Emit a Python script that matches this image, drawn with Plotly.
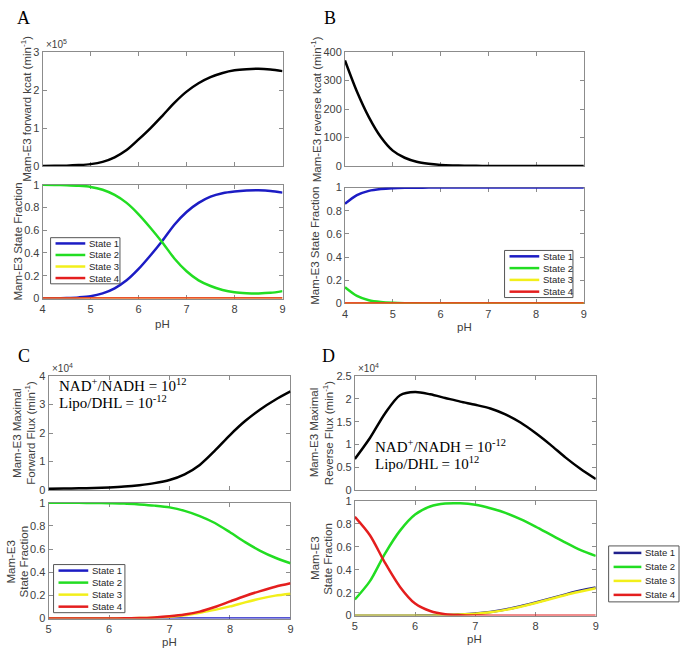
import plotly.graph_objects as go

W, H = 683, 655

# ---------------- data ----------------
ph_AB = [4.0, 4.25, 4.5, 4.75, 5.0, 5.25, 5.5, 5.75, 6.0, 6.25, 6.5, 6.75,
         7.0, 7.25, 7.5, 7.75, 8.0, 8.25, 8.5, 8.75, 9.0]
ph_CD = [5.0, 5.25, 5.5, 5.75, 6.0, 6.25, 6.5, 6.75, 7.0, 7.25, 7.5, 7.75,
         8.0, 8.25, 8.5, 8.75, 9.0]

# Panel A (forward kcat, x1e5 min^-1)
A_kcat = [0.00, 0.005, 0.01, 0.025, 0.05, 0.11, 0.23, 0.42, 0.70, 1.00, 1.33, 1.67,
          1.96, 2.18, 2.34, 2.45, 2.52, 2.55, 2.56, 2.54, 2.50]
A_s1 = [0.0, 0.002, 0.005, 0.01, 0.02, 0.045, 0.09, 0.16, 0.26, 0.38, 0.51, 0.65,
        0.76, 0.84, 0.895, 0.925, 0.94, 0.948, 0.95, 0.945, 0.93]
A_s2 = [1.0, 0.998, 0.995, 0.99, 0.98, 0.955, 0.91, 0.84, 0.74, 0.62, 0.49, 0.35,
        0.24, 0.16, 0.11, 0.075, 0.055, 0.047, 0.045, 0.05, 0.065]
A_s3 = [0.0] * 21
A_s4 = [0.0] * 21

# Panel B (reverse kcat, min^-1)
B_kcat = [371, 262, 172, 102, 54, 29, 15, 8, 4, 2, 1, 0.5,
          0.2, 0.1, 0, 0, 0, 0, 0, 0, 0]
B_s1 = [0.86, 0.935, 0.972, 0.988, 0.995, 0.998, 0.999, 1.0, 1.0, 1.0, 1.0, 1.0,
        1.0, 1.0, 1.0, 1.0, 1.0, 1.0, 1.0, 1.0, 1.0]
B_s2 = [0.14, 0.065, 0.028, 0.012, 0.005, 0.002, 0.001, 0.0, 0.0, 0.0, 0.0, 0.0,
        0.0, 0.0, 0.0, 0.0, 0.0, 0.0, 0.0, 0.0, 0.0]
B_s3 = [0.0] * 21
B_s4 = [0.0] * 21

# Panel C (maximal forward flux, x1e4 min^-1)
C_flux = [0.04, 0.05, 0.06, 0.07, 0.09, 0.12, 0.17, 0.24, 0.35, 0.55, 0.88, 1.38,
          1.93, 2.42, 2.83, 3.17, 3.46]
C_s1 = [0.0] * 17
C_s2 = [1.0, 1.0, 0.999, 0.998, 0.996, 0.993, 0.985, 0.975, 0.96, 0.93, 0.885, 0.825,
        0.745, 0.66, 0.585, 0.525, 0.478]
C_s3 = [0.0, 0.0, 0.0, 0.0, 0.001, 0.002, 0.004, 0.008, 0.015, 0.028, 0.05, 0.075,
        0.105, 0.14, 0.172, 0.198, 0.215]
C_s4 = [0.0, 0.0, 0.0, 0.0, 0.001, 0.002, 0.004, 0.01, 0.02, 0.035, 0.06, 0.1,
        0.148, 0.195, 0.237, 0.275, 0.305]

# Panel D (maximal reverse flux, x1e4 min^-1)
D_flux = [0.68, 1.14, 1.68, 2.08, 2.15, 2.10, 2.02, 1.94, 1.87, 1.79, 1.66, 1.48,
          1.25, 0.99, 0.71, 0.46, 0.24]
D_s1 = [0.0, 0.0, 0.0, 0.0, 0.0, 0.001, 0.005, 0.01, 0.018, 0.032, 0.053, 0.082,
        0.115, 0.15, 0.185, 0.218, 0.245]
D_s2 = [0.14, 0.30, 0.54, 0.74, 0.88, 0.95, 0.976, 0.978, 0.965, 0.935, 0.895, 0.84,
        0.775, 0.705, 0.635, 0.57, 0.52]
D_s3 = [0.0, 0.0, 0.0, 0.0, 0.0, 0.0, 0.005, 0.01, 0.017, 0.03, 0.05, 0.078,
        0.11, 0.145, 0.18, 0.21, 0.238]
D_s4 = [0.86, 0.70, 0.46, 0.25, 0.105, 0.04, 0.012, 0.004, 0.001, 0.0, 0.0, 0.0,
        0.0, 0.0, 0.0, 0.0, 0.0]

state_names = ["State 1", "State 2", "State 3", "State 4"]
state_colors = ["#1c1cc4", "#22dd22", "#f2ef1a", "#e41e1e"]
state_colors_D = ["#20208c", "#22dd22", "#f2ef1a", "#e41e1e"]

# ---------------- layout helpers ----------------
def px(x):
    return x / W

def py(y):
    return 1 - y / H

AXC = "#8c8c8c"
TICKFONT = dict(family="Liberation Sans, Arial, sans-serif", size=11, color="#404040")
LABFONT = dict(family="Liberation Sans, Arial, sans-serif", size=11.5, color="#404040")
SERIF = "Liberation Serif, Times New Roman, serif"

fig = go.Figure()

# axis boxes in pixels: (left, top, right, bottom)
boxes = {
    1: (40, 47, 282, 163),
    2: (40, 182, 282, 298),
    3: (345, 47, 586, 163),
    4: (345, 185, 586, 303),
    5: (46, 377, 290, 493),
    6: (46, 506, 290, 624),
    7: (355, 377, 598, 493),
    8: (355, 504, 598, 621),
}
xranges = {1: [4, 9], 2: [4, 9], 3: [4, 9], 4: [4, 9],
           5: [5, 9], 6: [5, 9], 7: [5, 9], 8: [5, 9]}
yranges = {1: [0, 3], 2: [0, 1], 3: [0, 400], 4: [0, 1],
           5: [0, 4], 6: [0, 1], 7: [0, 2.5], 8: [0, 1]}
ydticks = {1: 1, 2: 0.2, 3: 100, 4: 0.2, 5: 1, 6: 0.2, 7: 0.5, 8: 0.2}

layout_axes = {}
for i, (l, t, r, b) in boxes.items():
    xn = "xaxis" if i == 1 else f"xaxis{i}"
    yn = "yaxis" if i == 1 else f"yaxis{i}"
    top_plot = i in (1, 3, 5, 7)
    layout_axes[xn] = dict(
        domain=[px(l), px(r)], range=xranges[i], anchor=f"y{'' if i == 1 else i}",
        showline=True, linecolor=AXC, linewidth=1, mirror="ticks",
        ticks="inside", ticklen=4, tickcolor=AXC, dtick=1, tick0=0,
        showgrid=False, zeroline=False, showticklabels=not top_plot,
        tickfont=TICKFONT, layer="below traces",
    )
    layout_axes[yn] = dict(
        domain=[py(b), py(t)], range=yranges[i], anchor=f"x{'' if i == 1 else i}",
        showline=True, linecolor=AXC, linewidth=1, mirror="ticks",
        ticks="inside", ticklen=4, tickcolor=AXC, dtick=ydticks[i], tick0=0,
        showgrid=False, zeroline=False, tickfont=TICKFONT, layer="below traces",
    )
fig.update_layout(**layout_axes)


def ax(i):
    return ("x" if i == 1 else f"x{i}"), ("y" if i == 1 else f"y{i}")


def add_curve(i, x, y, color, width=2.5):
    xa, ya = ax(i)
    fig.add_trace(go.Scatter(x=x, y=y, mode="lines", xaxis=xa, yaxis=ya,
                             line=dict(color=color, width=width, shape="spline", smoothing=0.8),
                             showlegend=False, hoverinfo="skip"))


# top panels
add_curve(1, ph_AB, A_kcat, "black")
add_curve(3, ph_AB, B_kcat, "black")
add_curve(5, ph_CD, C_flux, "black")
add_curve(7, ph_CD, D_flux, "black")

# state fractions
for s, c in zip([A_s1, A_s2, A_s3, A_s4], state_colors):
    add_curve(2, ph_AB, s, c)
for s, c in zip([B_s1, B_s2, B_s3, B_s4], state_colors):
    add_curve(4, ph_AB, s, c)
for s, c in zip([C_s1, C_s2, C_s3, C_s4], state_colors):
    add_curve(6, ph_CD, s, c)
for s, c in zip([D_s1, D_s2, D_s3, D_s4], state_colors_D):
    add_curve(8, ph_CD, s, c)


def text(x, y, s, font, xanchor="center", yanchor="middle", angle=0):
    fig.add_annotation(x=px(x), y=py(y), xref="paper", yref="paper", text=s,
                       showarrow=False, font=font, xanchor=xanchor, yanchor=yanchor,
                       textangle=angle)


# y-axis titles
text(23, 105, "Mam-E3 forward kcat (min<sup>-1</sup>)", LABFONT, angle=-90)
text(15, 240, "Mam-E3 State Fraction", LABFONT, angle=-90)
text(316, 105, "Mam-E3 reverse kcat (min<sup>-1</sup>)", LABFONT, angle=-90)
text(314, 244, "Mam-E3 State Fraction", LABFONT, angle=-90)
text(14, 435, "Mam-E3 Maximal", LABFONT, angle=-90)
text(27, 435, "Forward Flux (min<sup>-1</sup>)", LABFONT, angle=-90)
text(8, 566, "Mam-E3", LABFONT, angle=-90)
text(21, 566, "State Fraction", LABFONT, angle=-90)
text(314, 435, "Mam-E3 Maximal", LABFONT, angle=-90)
text(328, 435, "Reverse Flux (min<sup>-1</sup>)", LABFONT, angle=-90)
text(314, 563, "Mam-E3", LABFONT, angle=-90)
text(328, 563, "State Fraction", LABFONT, angle=-90)

# x-axis titles
text(161, 324, "pH", LABFONT)
text(466, 327, "pH", LABFONT)
text(168, 648, "pH", LABFONT)
text(476, 645, "pH", LABFONT)

# exponent labels
EXPFONT = dict(family="Liberation Sans, Arial, sans-serif", size=10, color="#404040")
text(41, 47, "×10<sup>5</sup>", EXPFONT, xanchor="left", yanchor="bottom")
text(47, 377, "×10<sup>4</sup>", EXPFONT, xanchor="left", yanchor="bottom")
text(356, 377, "×10<sup>4</sup>", EXPFONT, xanchor="left", yanchor="bottom")

# panel letters
LETFONT = dict(family=SERIF, size=18, color="black")
text(21, 12, "A", LETFONT)
text(330, 12, "B", LETFONT)
text(21, 357, "C", LETFONT)
text(328, 357, "D", LETFONT)

# in-plot annotations
NOTEFONT = dict(family=SERIF, size=15, color="black")
text(54, 386, "NAD<sup>+</sup>/NADH = 10<sup>12</sup>", NOTEFONT, xanchor="left")
text(54, 403, "Lipo/DHL = 10<sup>-12</sup>", NOTEFONT, xanchor="left")
text(373, 448, "NAD<sup>+</sup>/NADH = 10<sup>-12</sup>", NOTEFONT, xanchor="left")
text(373, 466, "Lipo/DHL = 10<sup>12</sup>", NOTEFONT, xanchor="left")

# legends (drawn boxes)
LEGFONT = dict(family="Liberation Sans, Arial, sans-serif", size=9.5, color="#262626")


def add_legend(box, names, colors, line_len=30):
    x0, y0, x1, y1 = box
    fig.add_shape(type="rect", xref="paper", yref="paper",
                  x0=px(x0), x1=px(x1), y0=py(y1), y1=py(y0),
                  line=dict(color="#555555", width=1), fillcolor="white")
    n = len(names)
    h = (y1 - y0) / n
    for k, (nm, c) in enumerate(zip(names, colors)):
        yc = y0 + h * (k + 0.5)
        fig.add_shape(type="line", xref="paper", yref="paper",
                      x0=px(x0 + 5), x1=px(x0 + 5 + line_len), y0=py(yc), y1=py(yc),
                      line=dict(color=c, width=2.5))
        text(x0 + 7 + line_len, yc, nm, LEGFONT, xanchor="left")


add_legend((48, 236, 118, 283), state_names, state_colors)
add_legend((506, 249, 575, 297), state_names, state_colors)
add_legend((51, 569, 123, 618), state_names, state_colors)
add_legend((611, 550, 682, 607), state_names, state_colors_D, line_len=28)

fig.update_layout(width=W, height=H, autosize=False,
                  margin=dict(l=0, r=0, t=0, b=0),
                  paper_bgcolor="white", plot_bgcolor="white", showlegend=False)

fig.write_html("out.html", config={"displayModeBar": False},
               post_script="document.body.style.margin='0';document.body.style.overflow='hidden';")
